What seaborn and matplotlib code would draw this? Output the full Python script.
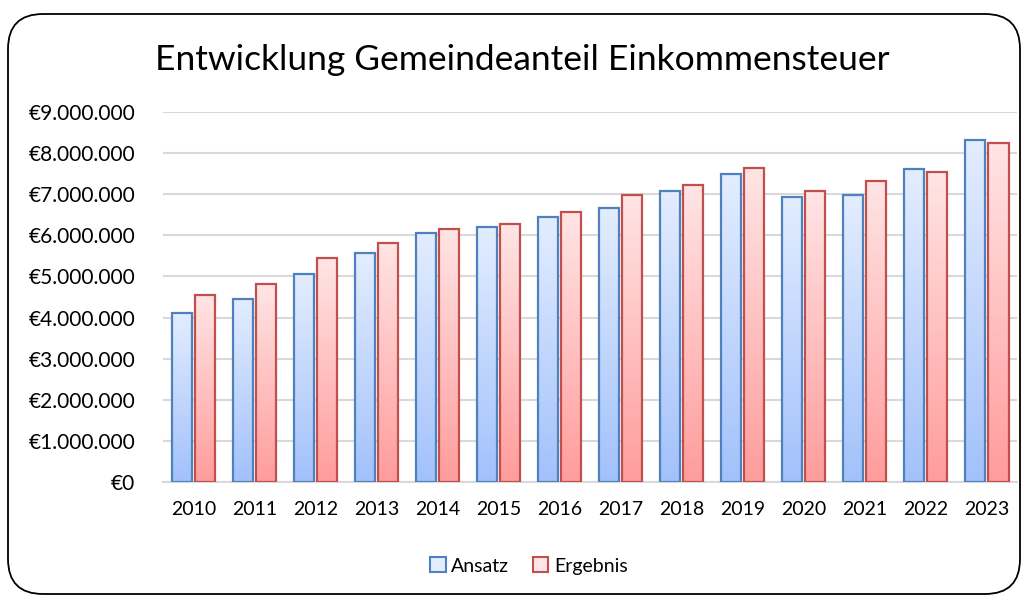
import numpy as np
import pandas as pd
import matplotlib
matplotlib.use("Agg")
import matplotlib.pyplot as plt
import seaborn as sns
from matplotlib.patches import FancyBboxPatch, Patch
from matplotlib.ticker import FuncFormatter, MultipleLocator
from matplotlib.colors import LinearSegmentedColormap

# ─── data ────────────────────────────────────────────────────────────────────
years = [str(y) for y in range(2010, 2024)]
ansatz = [4.12, 4.46, 5.06, 5.58, 6.05, 6.21, 6.44,
          6.67, 7.09, 7.49, 6.93, 6.98, 7.61, 8.32]
ergebnis = [4.55, 4.81, 5.46, 5.82, 6.16, 6.28, 6.57,
            6.98, 7.23, 7.65, 7.08, 7.33, 7.53, 8.24]
series = ["Ansatz", "Ergebnis"]

TITLE = "Entwicklung Gemeindeanteil Einkommensteuer"

EDGE = {"Ansatz": "#4F81BD", "Ergebnis": "#C0504D"}
GRAD = {"Ansatz": ("#E3EDFF", "#A2C1FB"),      # top, bottom
        "Ergebnis": ("#FFE5E5", "#FF9C9C")}

df = pd.DataFrame({
    "Jahr": years * 2,
    "Wert": np.array(ansatz + ergebnis) * 1e6,
    "Reihe": ["Ansatz"] * len(years) + ["Ergebnis"] * len(years),
})

sns.set_theme(style="white")
plt.rcParams["font.family"] = ["Lato", "DejaVu Sans"]
plt.rcParams["text.color"] = "black"

fig = plt.figure(figsize=(10.27, 5.99), dpi=100)
ax = fig.add_axes([0.1587, 0.1953, 0.832, 0.6177])

sns.barplot(data=df, x="Jahr", y="Wert", hue="Reihe", order=years,
            hue_order=series, width=0.754, gap=0.125,
            palette=EDGE, ax=ax, legend=False, zorder=3)

# gradient fill inside each bar
grad = np.linspace(0, 1, 256).reshape(-1, 1)
n = len(years)
for i, patch in enumerate(ax.patches[:2 * n]):
    name = series[i // n]
    top, bottom = GRAD[name]
    cmap = LinearSegmentedColormap.from_list(name, [top, bottom])
    x0, y0 = patch.get_x(), patch.get_y()
    w, h = patch.get_width(), patch.get_height()
    patch.set_facecolor("none")
    patch.set_edgecolor(EDGE[name])
    patch.set_linewidth(1.6)
    im = ax.imshow(grad, cmap=cmap, aspect="auto", zorder=2.5,
                   extent=(x0, x0 + w, y0, y0 + h), origin="upper")
    im.set_clip_path(patch)

ax.set_xlim(-0.5, n - 0.5)
ax.set_ylim(0, 9e6)
ax.yaxis.set_major_locator(MultipleLocator(1e6))
ax.yaxis.set_major_formatter(
    FuncFormatter(lambda v, _: f"€{v:,.0f}".replace(",", ".")))
ax.grid(axis="y", color="#D9D9D9", linewidth=1.5, zorder=0)
ax.set_axisbelow(True)
for s in ax.spines.values():
    s.set_visible(False)
ax.spines["bottom"].set_visible(True)
ax.spines["bottom"].set_color("#D9D9D9")
ax.spines["bottom"].set_linewidth(1.5)
ax.tick_params(axis="both", length=0, colors="black")
ax.tick_params(axis="y", labelsize=15, pad=20)
ax.tick_params(axis="x", labelsize=14, pad=14)
ax.set_xlabel("")
ax.set_ylabel("")

fig.text(0.509, 0.9, TITLE, ha="center", va="center", fontsize=25.5,
         color="black")

handles = [Patch(facecolor=GRAD[s][0], edgecolor=EDGE[s], linewidth=1.5,
                 label=s) for s in series]
fig.legend(handles=handles, loc="center", bbox_to_anchor=(0.515, 0.055),
           ncol=2, frameon=False, fontsize=14, handlelength=0.8,
           handleheight=0.8, handletextpad=0.3, columnspacing=1.2)

border = FancyBboxPatch((0.08, 0.05), 10.12, 5.8,
                        boxstyle="round,pad=0,rounding_size=0.35",
                        transform=fig.dpi_scale_trans, facecolor="none",
                        edgecolor="black", linewidth=1.3)
fig.patches.append(border)

fig.savefig("out.png", dpi=100)
plt.close(fig)
